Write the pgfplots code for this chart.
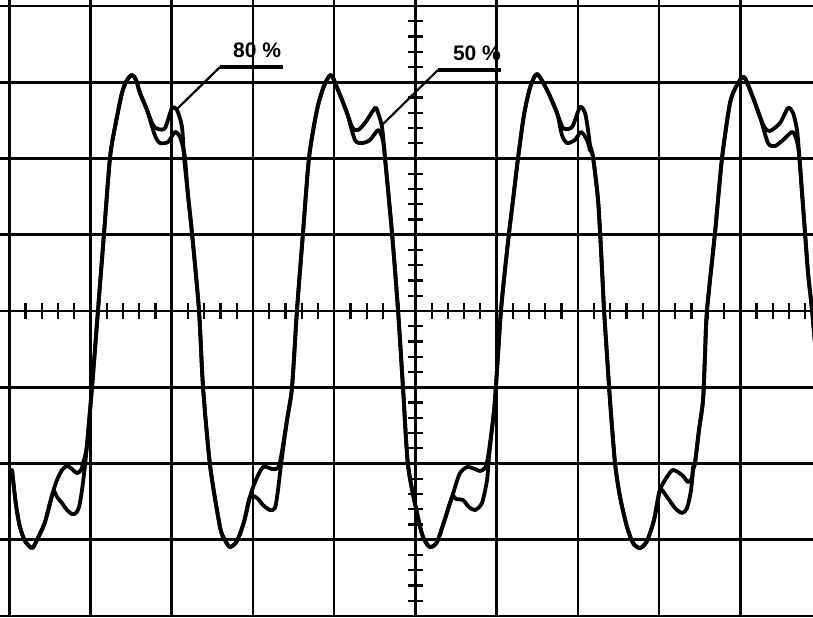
\documentclass[border=0pt]{standalone}
\usepackage{fontspec}
\setmainfont{Liberation Sans}
\usepackage{pgfplots}
\usepackage{pgfplotstable}
\pgfplotsset{compat=1.18}

% Two traces, in screen divisions (x: 10 div, y: 8 div, 0 at centre line)
% 80 % trace
\pgfplotstableread{
x y
0.033 -2.085
0.082 -2.544
0.131 -2.833
0.193 -3.016
0.279 -3.108
0.340 -3.003
0.439 -2.767
0.538 -2.374
0.587 -2.216
0.648 -2.085
0.710 -2.033
0.771 -2.072
0.833 -2.125
0.882 -2.085
0.919 -1.954
0.956 -1.757
1.018 -0.997
1.092 0.013
1.166 1.023
1.239 2.007
1.301 2.413
1.387 2.859
1.449 3.030
1.510 3.095
1.560 3.030
1.609 2.859
1.695 2.636
1.769 2.439
1.830 2.387
1.917 2.400
2.003 2.662
2.064 2.636
2.126 2.413
2.151 2.020
2.200 1.521
2.249 1.023
2.335 0.013
2.385 -0.997
2.471 -2.020
2.594 -2.833
2.655 -3.003
2.717 -3.095
2.803 -3.016
2.889 -2.767
2.963 -2.439
3.025 -2.243
3.123 -2.046
3.234 -2.072
3.308 -2.059
3.345 -1.915
3.419 -1.430
3.481 -0.997
3.542 0.013
3.616 1.023
3.690 2.007
3.788 2.636
3.875 2.951
3.961 3.095
4.047 2.898
4.158 2.597
4.227 2.400
4.293 2.374
4.379 2.466
4.503 2.662
4.540 2.597
4.589 2.413
4.626 2.007
4.712 1.023
4.786 0.013
4.847 -0.997
4.909 -2.020
5.020 -2.649
5.094 -2.964
5.180 -3.095
5.266 -3.030
5.352 -2.767
5.451 -2.439
5.500 -2.269
5.549 -2.125
5.636 -2.046
5.734 -2.072
5.796 -2.098
5.857 -2.059
5.894 -1.915
5.956 -1.430
5.980 -1.167
6.017 -0.577
6.054 0.013
6.103 0.538
6.153 1.023
6.202 1.456
6.264 2.007
6.337 2.571
6.411 2.925
6.497 3.108
6.621 2.898
6.744 2.597
6.818 2.400
6.929 2.413
7.027 2.675
7.089 2.597
7.126 2.374
7.150 2.177
7.187 2.020
7.249 1.456
7.286 0.800
7.323 0.013
7.359 -0.577
7.396 -1.167
7.458 -1.993
7.520 -2.439
7.606 -2.833
7.680 -3.043
7.766 -3.108
7.852 -3.016
7.938 -2.741
8.012 -2.348
8.098 -2.177
8.172 -2.085
8.283 -2.151
8.357 -2.243
8.406 -2.190
8.419 -2.046
8.443 -1.993
8.492 -1.561
8.542 -1.167
8.566 -0.577
8.591 0.013
8.689 1.023
8.776 2.007
8.874 2.728
8.960 2.964
9.046 3.069
9.145 2.833
9.244 2.544
9.305 2.400
9.367 2.361
9.490 2.466
9.588 2.662
9.650 2.597
9.699 2.374
9.724 2.072
9.761 1.548
9.798 1.023
9.835 0.498
9.884 0.013
9.933 -0.577
}\traceA

% 50 % trace
\pgfplotstableread{
x y
0.033 -2.085
0.082 -2.544
0.131 -2.833
0.193 -3.016
0.279 -3.108
0.340 -3.003
0.439 -2.767
0.538 -2.374
0.587 -2.439
0.648 -2.518
0.710 -2.610
0.771 -2.662
0.821 -2.649
0.858 -2.571
0.895 -2.348
0.932 -2.020
0.956 -1.757
1.018 -0.997
1.092 0.013
1.166 1.023
1.239 2.007
1.301 2.413
1.387 2.859
1.449 3.030
1.510 3.095
1.560 3.030
1.609 2.859
1.695 2.636
1.757 2.420
1.806 2.269
1.855 2.203
1.954 2.216
2.040 2.348
2.101 2.282
2.138 2.151
2.163 2.007
2.200 1.521
2.249 1.023
2.335 0.013
2.385 -0.997
2.471 -2.020
2.594 -2.833
2.655 -3.003
2.717 -3.095
2.803 -3.016
2.889 -2.767
2.963 -2.439
3.050 -2.453
3.123 -2.544
3.210 -2.610
3.271 -2.584
3.308 -2.348
3.345 -2.020
3.419 -1.430
3.481 -0.997
3.542 0.013
3.616 1.023
3.690 2.007
3.788 2.636
3.875 2.951
3.961 3.095
4.047 2.898
4.158 2.597
4.256 2.243
4.343 2.203
4.441 2.243
4.540 2.374
4.589 2.282
4.613 2.151
4.626 2.007
4.712 1.023
4.786 0.013
4.847 -0.997
4.909 -2.020
5.020 -2.649
5.094 -2.964
5.180 -3.095
5.266 -3.030
5.352 -2.767
5.451 -2.439
5.500 -2.466
5.586 -2.479
5.660 -2.571
5.734 -2.610
5.820 -2.518
5.882 -2.216
5.906 -1.915
5.956 -1.430
5.980 -1.167
6.017 -0.577
6.054 0.013
6.103 0.538
6.153 1.023
6.202 1.456
6.264 2.007
6.337 2.571
6.411 2.925
6.497 3.108
6.621 2.898
6.744 2.597
6.805 2.308
6.867 2.203
6.965 2.243
7.039 2.348
7.113 2.243
7.150 2.112
7.187 2.020
7.249 1.456
7.286 0.800
7.323 0.013
7.359 -0.577
7.396 -1.167
7.458 -1.993
7.520 -2.439
7.606 -2.833
7.680 -3.043
7.766 -3.108
7.852 -3.016
7.938 -2.741
8.012 -2.348
8.098 -2.439
8.197 -2.584
8.283 -2.649
8.345 -2.584
8.394 -2.348
8.419 -2.085
8.443 -1.993
8.492 -1.561
8.542 -1.167
8.566 -0.577
8.591 0.013
8.689 1.023
8.776 2.007
8.874 2.728
8.960 2.964
9.046 3.069
9.145 2.833
9.244 2.544
9.342 2.203
9.428 2.164
9.527 2.243
9.638 2.348
9.687 2.269
9.724 2.072
9.761 1.548
9.798 1.023
9.835 0.498
9.884 0.013
9.933 -0.577
}\traceB

\begin{document}
\begin{tikzpicture}
\begin{axis}[
  scale only axis,
  width=406.5pt, height=308.5pt,
  xmin=-0.115, xmax=9.896,
  ymin=-4.013, ymax=4.079,
  axis line style={draw=none},
  xtick={0,...,9}, ytick={-4,...,4},
  xmajorticks=false, ymajorticks=false,
  grid=major,
  major grid style={black, line width=1.3pt},
  trace/.style={black, line width=1.9pt, line join=round, line cap=round,
                smooth, tension=0.45},
]
  % graticule sub-division marks on the centre lines
  \pgfplotsinvokeforeach{-3.8,-3.6,...,3.85}{
    \draw[black, line width=1.1pt] (axis cs:4.908,#1) -- (axis cs:5.092,#1);
  }
  \pgfplotsinvokeforeach{0.2,0.4,...,9.85}{
    \draw[black, line width=1.1pt] (axis cs:#1,-0.105) -- (axis cs:#1,0.105);
  }

  \addplot[trace] table[x=x, y=y] {\traceA};
  \addplot[trace] table[x=x, y=y] {\traceB};

  % leaders and labels
  \draw[black, line width=1.1pt] (axis cs:2.077,2.662) -- (axis cs:2.594,3.200);
  \draw[black, line width=1.7pt] (axis cs:2.594,3.200) -- (axis cs:3.370,3.200);
  \node[font=\bfseries\fontsize{10.5}{12}\selectfont, inner sep=0pt]
    at (axis cs:3.050,3.423) {80 \%};

  \draw[black, line width=1.1pt] (axis cs:4.589,2.439) -- (axis cs:5.278,3.161);
  \draw[black, line width=1.7pt] (axis cs:5.278,3.161) -- (axis cs:6.050,3.161);
  \node[font=\bfseries\fontsize{10.5}{12}\selectfont, inner sep=0pt]
    at (axis cs:5.758,3.384) {50 \%};
\end{axis}
\pgfresetboundingbox
\path (current axis.south west) rectangle (current axis.north east);
\end{tikzpicture}
\end{document}
